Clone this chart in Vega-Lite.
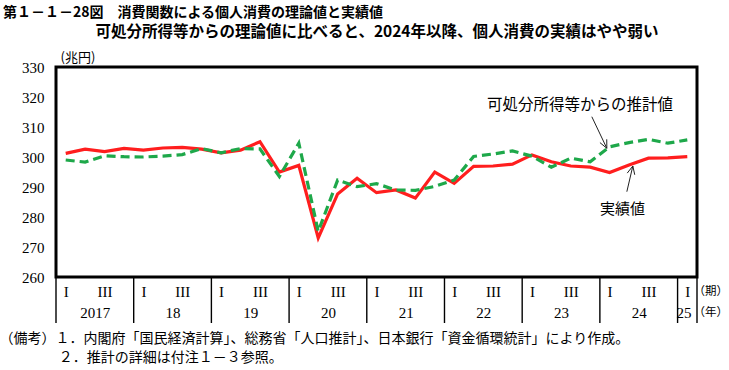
{
  "$schema": "https://vega.github.io/schema/vega-lite/v6.json",
  "autosize": "none",
  "width": 641,
  "height": 210,
  "padding": {"left": 56, "top": 67, "right": 32, "bottom": 93},
  "background": "white",
  "config": {"view": {"stroke": "black", "strokeWidth": 3}, "font": "Noto Sans CJK JP"},
  "title": {
    "text": "第１－１－28図　消費関数による個人消費の理論値と実績値",
    "anchor": "start",
    "frame": "group",
    "dx": -53,
    "fontSize": 14,
    "font": "Noto Sans CJK JP",
    "fontWeight": "bold",
    "color": "black",
    "offset": 4
  },
  "datasets": {
    "jisseki": [
      {"t": 0, "v": 301.2}, {"t": 1, "v": 302.6}, {"t": 2, "v": 301.8}, {"t": 3, "v": 302.9},
      {"t": 4, "v": 302.3}, {"t": 5, "v": 303.0}, {"t": 6, "v": 303.2}, {"t": 7, "v": 302.6},
      {"t": 8, "v": 301.4}, {"t": 9, "v": 302.3}, {"t": 10, "v": 305.1}, {"t": 11, "v": 295.0},
      {"t": 12, "v": 297.2}, {"t": 13, "v": 273.0}, {"t": 14, "v": 287.7}, {"t": 15, "v": 292.9},
      {"t": 16, "v": 288.1}, {"t": 17, "v": 289.0}, {"t": 18, "v": 286.3}, {"t": 19, "v": 295.0},
      {"t": 20, "v": 291.2}, {"t": 21, "v": 296.9}, {"t": 22, "v": 297.0}, {"t": 23, "v": 297.6},
      {"t": 24, "v": 300.7}, {"t": 25, "v": 298.4}, {"t": 26, "v": 297.0}, {"t": 27, "v": 296.6},
      {"t": 28, "v": 294.8}, {"t": 29, "v": 297.3}, {"t": 30, "v": 299.6}, {"t": 31, "v": 299.7},
      {"t": 32, "v": 300.1}
    ],
    "suikei": [
      {"t": 0, "v": 299.0}, {"t": 1, "v": 298.3}, {"t": 2, "v": 300.4}, {"t": 3, "v": 300.1},
      {"t": 4, "v": 300.0}, {"t": 5, "v": 300.3}, {"t": 6, "v": 300.8}, {"t": 7, "v": 302.8},
      {"t": 8, "v": 301.4}, {"t": 9, "v": 302.8}, {"t": 10, "v": 302.7}, {"t": 11, "v": 293.5},
      {"t": 12, "v": 304.6}, {"t": 13, "v": 275.2}, {"t": 14, "v": 292.3}, {"t": 15, "v": 290.1},
      {"t": 16, "v": 291.1}, {"t": 17, "v": 289.0}, {"t": 18, "v": 288.9}, {"t": 19, "v": 290.2},
      {"t": 20, "v": 292.3}, {"t": 21, "v": 300.2}, {"t": 22, "v": 301.0}, {"t": 23, "v": 302.0},
      {"t": 24, "v": 300.3}, {"t": 25, "v": 296.6}, {"t": 26, "v": 299.6}, {"t": 27, "v": 298.4},
      {"t": 28, "v": 303.4}, {"t": 29, "v": 304.8}, {"t": 30, "v": 305.9}, {"t": 31, "v": 304.6},
      {"t": 32, "v": 305.7}
    ],
    "arrows": [
      {"x": 27.085, "y": 313.43, "x2": 27.858, "y2": 302.9},
      {"x": 27.853, "y": 305.9, "x2": 27.858, "y2": 302.9},
      {"x": 27.503, "y": 304.8, "x2": 27.858, "y2": 302.9},
      {"x": 28.888, "y": 288.43, "x2": 29.197, "y2": 297.0},
      {"x": 28.908, "y": 294.63, "x2": 29.197, "y2": 297.0},
      {"x": 29.295, "y": 294.07, "x2": 29.197, "y2": 297.0}
    ],
    "sep": [
      {"b": -0.5}, {"b": 3.5}, {"b": 7.5}, {"b": 11.5}, {"b": 15.5}, {"b": 19.5},
      {"b": 23.5}, {"b": 27.5}, {"b": 31.5}, {"b": 32.5}
    ]
  },
  "layer": [
    {
      "data": {"name": "jisseki"},
      "mark": {"type": "line", "color": "#ff1e1e", "strokeWidth": 3.2},
      "encoding": {
        "x": {
          "field": "t", "type": "quantitative",
          "scale": {"domain": [-0.5, 32.5], "nice": false, "zero": false},
          "axis": {
            "orient": "bottom",
            "values": [0, 1.5, 2, 4, 5.5, 6, 8, 9.5, 10, 12, 13.5, 14, 16, 17.5, 18, 20, 21.5, 22, 24, 25.5, 26, 28, 29.5, 30, 31.8, 32],
            "labelExpr": "datum.value == 31.8 ? ['', '25'] : (datum.value % 4 == 0 ? 'I' : (datum.value % 4 == 2 ? 'III' : ['', datum.value == 1.5 ? '2017' : '' + (17 + (datum.value - 1.5) / 4)]))",
            "labelOverlap": false, "labelFlush": false, "labelBound": false,
            "ticks": false, "domain": false, "grid": false,
            "labelFont": "Liberation Serif", "labelFontSize": 15, "labelColor": "black",
            "labelPadding": 7, "labelLineHeight": 21, "labelBaseline": "top",
            "title": "（備考）１．内閣府「国民経済計算」、総務省「人口推計」、日本銀行「資金循環統計」により作成。",
            "titleFont": "Noto Sans CJK JP", "titleFontSize": 14, "titleFontWeight": "normal",
            "titleColor": "black", "titleAlign": "left", "titleAnchor": "start",
            "titleX": -57, "titleY": 54, "titleBaseline": "top"
          }
        },
        "y": {
          "field": "v", "type": "quantitative",
          "scale": {"domain": [260, 330], "nice": false, "zero": false},
          "axis": {
            "values": [260, 270, 280, 290, 300, 310, 320, 330],
            "tickCount": 8,
            "labelOverlap": false, "labelFlush": false, "labelBound": false,
            "grid": false, "domain": false, "ticks": false, "labelPadding": 12,
            "labelFont": "Liberation Serif", "labelFontSize": 15, "labelColor": "black",
            "title": "(兆円)", "titleAngle": 0, "titleX": 4, "titleY": -3,
            "titleAlign": "left", "titleBaseline": "bottom",
            "titleFont": "Noto Sans CJK JP", "titleFontSize": 13, "titleFontWeight": "normal",
            "titleColor": "black"
          }
        }
      }
    },
    {
      "data": {"name": "suikei"},
      "mark": {"type": "line", "color": "#1ea84a", "strokeWidth": 3.2, "strokeDash": [9, 5]},
      "encoding": {
        "x": {"field": "t", "type": "quantitative", "axis": null},
        "y": {"field": "v", "type": "quantitative"}
      }
    },
    {
      "data": {"name": "sep"},
      "mark": {"type": "rule", "color": "black", "strokeWidth": 1.4},
      "encoding": {
        "x": {
          "field": "b", "type": "quantitative",
          "axis": {
            "orient": "top", "labels": false, "ticks": false, "domain": false, "grid": false,
            "title": "可処分所得等からの理論値に比べると、2024年以降、個人消費の実績はやや弱い",
            "titleFont": "Noto Sans CJK JP", "titleFontSize": 15.5, "titleFontWeight": "bold",
            "titleColor": "black", "titleY": -28, "titleBaseline": "bottom"
          }
        },
        "y": {"datum": 260, "type": "quantitative"},
        "y2": {"datum": 244.67}
      }
    },
    {
      "data": {"name": "arrows"},
      "mark": {"type": "rule", "color": "#222222", "strokeWidth": 1},
      "encoding": {
        "x": {"field": "x", "type": "quantitative", "axis": null},
        "y": {"field": "y", "type": "quantitative"},
        "x2": {"field": "x2"},
        "y2": {"field": "y2"}
      }
    },
    {
      "data": {"values": [{}]},
      "mark": {"type": "text", "font": "Noto Sans CJK JP", "fontSize": 15.5, "color": "black", "align": "center", "baseline": "middle"},
      "encoding": {
        "x": {"datum": 26.48, "type": "quantitative", "axis": null},
        "y": {"datum": 317.3, "type": "quantitative"},
        "text": {"value": "可処分所得等からの推計値"}
      }
    },
    {
      "data": {"values": [{}]},
      "mark": {"type": "text", "font": "Noto Sans CJK JP", "fontSize": 15, "color": "black", "align": "center", "baseline": "middle"},
      "encoding": {
        "x": {"datum": 28.67, "type": "quantitative", "axis": null},
        "y": {"datum": 282.67, "type": "quantitative"},
        "text": {"value": "実績値"}
      }
    },
    {
      "data": {"values": [{}]},
      "mark": {"type": "text", "font": "Noto Sans CJK JP", "fontSize": 14, "color": "black", "align": "left", "baseline": "middle"},
      "encoding": {
        "x": {"datum": -0.36, "type": "quantitative", "axis": null},
        "y": {"datum": 233, "type": "quantitative"},
        "text": {"value": "２．推計の詳細は付注１－３参照。"}
      }
    },
    {
      "data": {"values": [{}]},
      "mark": {"type": "text", "font": "Noto Sans CJK JP", "fontSize": 11.5, "color": "black", "align": "right", "baseline": "middle"},
      "encoding": {
        "x": {"datum": 34.1, "type": "quantitative", "axis": null},
        "y": {"datum": 255, "type": "quantitative"},
        "text": {"value": "（期）"}
      }
    },
    {
      "data": {"values": [{}]},
      "mark": {"type": "text", "font": "Noto Sans CJK JP", "fontSize": 11.5, "color": "black", "align": "right", "baseline": "middle"},
      "encoding": {
        "x": {"datum": 34.1, "type": "quantitative", "axis": null},
        "y": {"datum": 248, "type": "quantitative"},
        "text": {"value": "（年）"}
      }
    }
  ],
  "resolve": {"axis": {"x": "independent"}}
}
